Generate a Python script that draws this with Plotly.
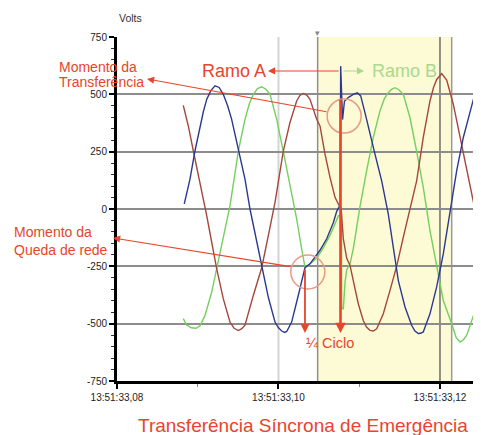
import plotly.graph_objects as go

# time in ms after 13:51:33,08 ; voltage in volts
t_blue = [8.33, 9.04, 9.66, 10.28, 10.7, 11.11, 11.6, 12.14, 12.65, 13.16, 13.7, 14.20, 15.02, 15.85, 16.47,
          17.30, 17.99, 18.74, 19.57, 20.0, 20.40, 20.75, 21.02, 21.35, 21.63, 22.45, 23.28, 23.90, 24.73,
          25.14, 25.97, 26.79, 27.21, 27.53, 27.65, 27.70, 27.93, 28.17, 28.64, 29.26, 29.76, 30.18, 30.71,
          31.33, 31.95, 32.78, 33.60, 34.22, 34.84, 35.67, 36.49, 36.9, 37.31, 37.6, 37.93, 38.76, 39.59,
          40.41, 41.24, 42.07, 42.89, 43.93, 44.74, 45.08]
v_blue = [22, 130, 254, 362, 425, 478, 515, 537, 530, 500, 450, 391, 261, 130, 0,
          -140, -270, -385, -493, -518, -532, -538, -534, -515, -493, -377, -256, -239, -200,
          -180, -130, -60, -10, 10, 10, 623, 390, 470, 486, 500, 507, 493, 420,
          326, 239, 123, -22, -167, -312, -427, -507, -532, -543, -542, -536, -457, -340,
          -196, -7, 167, 312, 457, 558, 580]

t_green = [8.21, 8.6, 9.2, 9.8, 10.3, 10.90, 11.73, 12.35, 13.16, 13.99, 14.5, 15.02, 15.85, 16.4, 16.88,
           17.4, 17.92, 18.45, 18.95, 19.78, 20.59, 21.42, 22.25, 22.87, 23.28, 23.6, 23.90, 24.73, 25.55,
           26.38, 27.00, 27.41, 27.80, 27.83, 28.03, 28.24, 28.45, 28.85, 29.26, 30.09, 30.92, 31.74, 32.57,
           33.1, 33.60, 34.0, 34.43, 34.9, 35.46, 36.28, 37.11, 37.93, 38.76, 39.59, 40.41, 41.45, 42.0,
           42.48, 42.9, 43.31, 44.12, 45.08]
v_green = [-478, -505, -518, -520, -508, -464, -362, -261, -116, 14, 130, 251, 391, 460, 500,
           525, 533, 522, 500, 391, 251, 101, -43, -174, -254, -248, -240, -215, -170,
           -115, -65, -30, -25, -435, -435, -320, -265, -240, -174, 10, 167, 312, 428,
           480, 507, 522, 529, 520, 500, 399, 251, 94, -94, -254, -399, -500, -560,
           -580, -570, -550, -471, -370]

t_red = [8.21, 8.83, 9.45, 10.28, 11.11, 11.73, 12.35, 13.16, 13.99, 14.5, 15.02, 15.45, 15.85, 16.88,
         17.92, 18.74, 19.57, 20.59, 21.42, 22.25, 22.65, 23.07, 23.5, 23.90, 24.73, 25.14, 25.76, 26.38,
         27.00, 27.53, 27.75, 28.03, 28.45, 28.85, 29.26, 29.88, 30.50, 30.9, 31.33, 31.75, 32.16, 32.98,
         33.81, 34.64, 35.46, 36.28, 37.11, 37.93, 38.76, 39.2, 39.59, 40.21, 40.83, 41.65, 42.48, 43.31,
         44.12, 45.08]
v_red = [452, 362, 254, 116, -29, -145, -261, -391, -493, -520, -530, -522, -507, -377,
         -256, -116, 29, 251, 377, 471, 495, 504, 497, 478, 391, 362, 239, 138,
         51, 14, 5, -130, -215, -245, -312, -413, -486, -515, -529, -532, -522, -457,
         -355, -249, -123, 0, 123, 312, 471, 530, 565, 590, 562, 457, 312, 167,
         36, -130]

x_tickvals = [0, 20, 40]
x_ticktext = ["13:51:33,08", "13:51:33,10", "13:51:33,12"]
y_tickvals = [-750, -500, -250, 0, 250, 500, 750]
y_ticktext = ["-750", "-500", "-250", "0", "250", "500", "750"]

# event times (ms)
t_queda = 23.28
t_transf = 27.68
t_cursor1 = 24.85
t_cursor2 = 41.45

RED = "#e8452c"
FONT = "Liberation Sans, Arial, sans-serif"

fig = go.Figure()
fig.add_trace(go.Scatter(x=t_green, y=v_green, mode="lines", line=dict(color="#74cf5f", width=1.4)))
fig.add_trace(go.Scatter(x=t_red, y=v_red, mode="lines", line=dict(color="#a6473c", width=1.4)))
fig.add_trace(go.Scatter(x=t_blue, y=v_blue, mode="lines", line=dict(color="#2b3990", width=1.4)))

shapes = [
    dict(type="rect", xref="x", yref="y", x0=t_cursor1, x1=t_cursor2, y0=-750, y1=750,
         fillcolor="#fdfad6", line=dict(width=0), layer="below"),
    dict(type="line", xref="x", yref="y", x0=20, x1=20, y0=-750, y1=750,
         line=dict(color="#d4d4d4", width=2), layer="below"),
    dict(type="line", xref="x", yref="y", x0=t_cursor1, x1=t_cursor1, y0=-750, y1=750,
         line=dict(color="#8e8e8e", width=1.5), layer="below"),
    dict(type="line", xref="x", yref="y", x0=40, x1=40, y0=-750, y1=750,
         line=dict(color="#6e6e6e", width=1.5), layer="below"),
    dict(type="line", xref="x", yref="y", x0=t_cursor2, x1=t_cursor2, y0=-750, y1=750,
         line=dict(color="#9a9a9a", width=1.5), layer="below"),
    # circles
    dict(type="circle", xref="x", yref="y", xsizemode="pixel", ysizemode="pixel",
         xanchor=t_queda + 0.35, yanchor=-275, x0=-17, x1=17, y0=-17, y1=17,
         line=dict(color="#e99a84", width=1.5)),
    dict(type="circle", xref="x", yref="y", xsizemode="pixel", ysizemode="pixel",
         xanchor=t_transf + 0.45, yanchor=405, x0=-17, x1=17, y0=-17, y1=17,
         line=dict(color="#e99a84", width=1.5)),
]

annotations = [
    dict(text="Volts", xref="paper", yref="paper", x=0, y=1.055, yanchor="middle", showarrow=False,
         font=dict(size=10.5, color="#333", family=FONT)),
    dict(text="▾", xref="x", yref="paper", x=t_cursor1, y=1.012, yanchor="middle", showarrow=False,
         font=dict(size=9, color="#888", family=FONT)),
    # Momento da Transferencia
    dict(text="Momento da", xref="paper", yref="paper", x=-0.165, y=0.913, xanchor="left",
         yanchor="middle", showarrow=False, font=dict(size=14, color=RED, family=FONT)),
    dict(text="Transferência", xref="paper", yref="paper", x=-0.165, y=0.869, xanchor="left",
         yanchor="middle", showarrow=False, font=dict(size=14, color=RED, family=FONT)),
    dict(text="", xref="paper", yref="paper", x=0.0824, y=0.878, ax=181, ay=33,
         showarrow=True, arrowhead=2, arrowsize=1.3, arrowwidth=1.1, arrowcolor=RED, standoff=0),
    # Momento da Queda de rede
    dict(text="Momento da", xref="paper", yref="paper", x=-0.288, y=0.433, xanchor="left",
         yanchor="middle", showarrow=False, font=dict(size=14, color=RED, family=FONT)),
    dict(text="Queda de rede", xref="paper", yref="paper", x=-0.288, y=0.381, xanchor="left",
         yanchor="middle", showarrow=False, font=dict(size=14, color=RED, family=FONT)),
    dict(text="", xref="paper", yref="paper", x=-0.011, y=0.416, ax=179, ay=29,
         showarrow=True, arrowhead=2, arrowsize=1.3, arrowwidth=1.1, arrowcolor=RED, standoff=0),
    # Ramo A / Ramo B
    dict(text="Ramo A", xref="x", yref="y", x=18.7, y=602, xanchor="right", yanchor="middle",
         showarrow=False, font=dict(size=18, color=RED, family=FONT)),
    dict(text="", xref="x", yref="y", x=18.7, y=602, axref="x", ayref="y", ax=t_transf - 0.05, ay=602,
         showarrow=True, arrowhead=2, arrowsize=1.3, arrowwidth=1.1, arrowcolor=RED, standoff=0),
    dict(text="Ramo B", xref="x", yref="y", x=31.3, y=602, xanchor="left", yanchor="middle",
         showarrow=False, font=dict(size=18, color="#a9d98e", family=FONT)),
    dict(text="", xref="x", yref="y", x=30.6, y=602, axref="x", ayref="y", ax=t_transf + 0.2, ay=602,
         showarrow=True, arrowhead=2, arrowsize=1.3, arrowwidth=1.1, arrowcolor="#a9d98e", standoff=0),
    # 1/4 ciclo arrows
    dict(text="", xref="x", yref="y", x=t_queda, y=-541, axref="x", ayref="y", ax=t_queda, ay=-257,
         showarrow=True, arrowhead=2, arrowsize=1.0, arrowwidth=1.8, arrowcolor=RED, standoff=0),
    dict(text="", xref="x", yref="y", x=t_transf, y=-541, axref="x", ayref="y", ax=t_transf, ay=484,
         showarrow=True, arrowhead=2, arrowsize=0.8, arrowwidth=2.6, arrowcolor=RED, standoff=0),
    dict(text="¼ Ciclo", xref="x", yref="y", x=23.1, y=-584, xanchor="left", yanchor="middle",
         showarrow=False, font=dict(size=14.5, color=RED, family=FONT)),
    # title
    dict(text="Transferência Síncrona de Emergência", xref="paper", yref="paper", x=0.511, y=-0.128,
         yanchor="middle", showarrow=False, font=dict(size=19, color=RED, family=FONT)),
]

# the page adds an 8px body margin, so the figure is shrunk by 8px and margins shifted
fig.update_layout(
    width=473, height=427,
    margin=dict(l=109, r=0, t=29, b=54),
    paper_bgcolor="white", plot_bgcolor="white",
    showlegend=False,
    shapes=shapes, annotations=annotations,
    xaxis=dict(range=[0, 45.08], tickmode="array", tickvals=x_tickvals, ticktext=x_ticktext,
               showgrid=False, zeroline=False, showline=True, linewidth=3, linecolor="black",
               ticks="outside", ticklen=5, tickwidth=2, tickcolor="black",
               tickfont=dict(size=10, color="#222", family=FONT),
               minor=dict(tickmode="array", tickvals=[10, 30], ticks="outside", ticklen=3,
                          tickwidth=1, tickcolor="#888")),
    yaxis=dict(range=[-750, 750], tickmode="array", tickvals=y_tickvals, ticktext=y_ticktext,
               showgrid=True, gridcolor="#8c8c8c", gridwidth=1.5, zeroline=False,
               showline=True, linewidth=3, linecolor="black",
               ticks="outside", ticklen=5, tickwidth=2, tickcolor="black",
               tickfont=dict(size=10, color="#222", family=FONT),
               minor=dict(dtick=50, tick0=0, ticks="outside", ticklen=3, tickwidth=1.2,
                          tickcolor="#333", showgrid=False)),
)

fig.write_html("out.html")
